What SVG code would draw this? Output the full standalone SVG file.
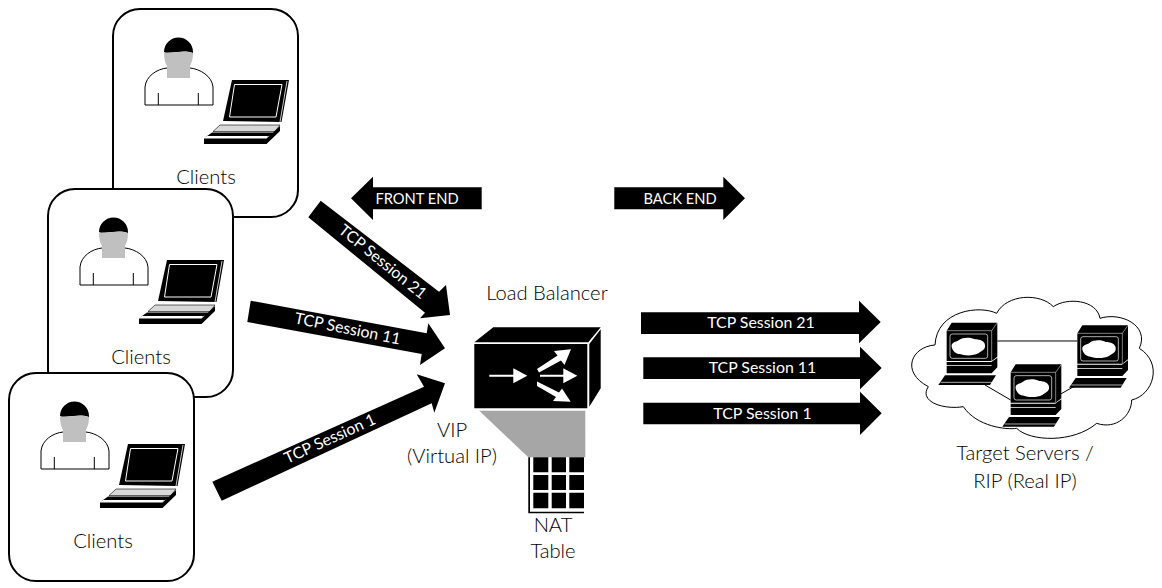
<svg xmlns="http://www.w3.org/2000/svg" width="1162" height="588" viewBox="0 0 1162 588">
<style>
text{font-family:"Lato","Open Sans","Liberation Sans",sans-serif;font-weight:300;fill:#000;text-anchor:middle}
.lb{font-size:20.2px}
.w{fill:#fff;font-size:15.9px;font-weight:400}
.s{font-size:14.700px}
.b{fill:#000}
.box{fill:#fff;stroke:#000;stroke-width:2}
.ln{fill:#fff;stroke:#000;stroke-width:1}
.wl{fill:none;stroke:#fff}
.wf{fill:#fff}
.g{fill:#c0c0c0}
</style>
<defs>
<g id="client">
<rect class="box" x="113" y="9" width="185" height="208" rx="27"/>
<path class="ln" d="M145,105V87C146,76 157,69 167,68H190C200,69 212,76 213,87V105ZM158.300,93V105M198.300,93V105"/>
<path class="b" d="M164,52A14.500,14.500 0 0 1 193,52L193,53C185,50 178,52 172,52.500C169,53 166,53 164,52Z"/>
<path class="g" d="M164,52.500C170,53.500 185,50 193,53C193,60 191,64 190,66V78H167V66C165,63 164,58 164,52.500Z"/>
<path class="b" d="M232,80H289L281.500,122L223,121Z"/>
<path class="wl" d="M234.500,84.500H282L276,117H229.500Z"/>
<path class="wl" d="M287,81L280,122" stroke-width=".8"/>
<path d="M220,125H280L275,131.500H213Z" fill="#d8d8d8" stroke="#000" stroke-width=".6"/>
<path class="b" d="M204,138.500H266.500V144H204ZM266.500,138.500L280,126V131L266.500,144ZM212,132.500H275L266,137.500H205Z"/>
<path class="wf" d="M207,136H268L266.500,138H204.500Z"/>
</g>
<path id="cblob" d="M-50,0C-52,-14 -35,-14 -28,-20C-15,-30 10,-28 20,-22C35,-22 50,-16 50,-4C52,10 38,14 30,20C15,28 -12,28 -25,22C-38,22 -48,12 -50,0Z" fill="#fff"/>
<g id="pc">
<path class="b" d="M140,122L155,98H292L275,122ZM275,122L292,98V200L275,213ZM140,122H275V213H140Z"/>
<path class="wl" d="M140,122H275L292,98M275,122V213" stroke-width="1.500"/>
<rect class="wl" x="150" y="132" width="113" height="73" rx="7" stroke-width="2"/>
<use href="#cblob" transform="translate(205,170)"/>
<path class="b" d="M140,216H275V226H140ZM140,228H275V250H140ZM275,215L292,203V232L275,250Z"/>
<path class="b" d="M115,285L135,256H288L270,285Z"/>
<path class="wl" d="M122,277H276" stroke-width="2"/>
</g>
</defs>

<g id="client-top"><use href="#client"/><text class="lb" x="206" y="184">Clients</text></g>
<g id="client-middle"><use href="#client" x="-65" y="180"/><text class="lb" x="141" y="364">Clients</text></g>
<g id="client-bottom"><use href="#client" x="-104" y="364"/><text class="lb" x="103" y="548">Clients</text></g>

<g id="load-balancer">
<path class="b" d="M474.300,342.300L493.300,327.300H600.700L588.300,342.300ZM589.300,344L600.700,329.300V388.300L589.300,406.700ZM474.300,344H587.300V408.300H474.300Z"/>
<path class="wf" d="M489.300,374.700H513.300V368.300L527.300,375.700L513.300,383.300V376.700H489.300ZM540,374.700H563.300V368.300L577.300,375.700L563.300,383.300V376.700H540ZM537,369L557.500,355.500L554,351L571,349.300L564.500,365L561,360.500L539,372.500ZM537,381.500L559,392.500L562,388.500L570.700,401.700L553,401L556,397L537,386Z"/>
<text class="lb" x="547" y="300">Load Balancer</text>
<text class="lb" x="452" y="437">VIP</text>
<text class="lb" x="452" y="463">(Virtual IP)</text>
</g>

<g id="nat-table">
<path d="M479.300,410.700H585.300V457.300H528.300Z" fill="#a6a6a6"/>
<path class="b" d="M528.300,457.300H530V511.700H584V513.300H528.300ZM533.300,457.300H548.300V472.300H533.300ZM551.700,457.300H566V472.300H551.700ZM569.300,457.300H584V472.300H569.300ZM533.300,475H548.300V490H533.300ZM551.700,475H566V490H551.700ZM569.300,475H584V490H569.300ZM533.300,492.700H548.300V508.300H533.300ZM551.700,492.700H566V508.300H551.700ZM569.300,492.700H584V508.300H569.300Z"/>
<text class="lb" x="553" y="532">NAT</text>
<text class="lb" x="553" y="558">Table</text>
</g>

<g id="target-servers">
<g transform="translate(900,290) scale(.33333)">
<path fill="#fff" stroke="#000" stroke-width="3" d="M105,165C35,170 0,245 85,290C55,335 130,360 190,350C230,410 320,420 350,415C390,455 520,460 590,400C650,420 695,375 695,330C760,315 790,220 718,175C750,105 660,65 600,85C590,28 500,22 460,50C420,8 320,12 290,70C240,45 110,60 105,165Z"/>
<path fill="none" stroke="#000" stroke-width="3" d="M292,153H532M255,285L332,330M468,320L530,285"/>
<use href="#pc"/>
<use href="#pc" x="392" y="8"/>
<use href="#pc" x="192" y="125"/>
</g>
<text class="lb" x="1025" y="460">Target Servers /</text>
<text class="lb" x="1025" y="488">RIP (Real IP)</text>
</g>

<g id="connectors">
<path class="b" d="M351,198.300L373,176.700V187.300H481.700V209.300H373V220Z"/>
<path class="b" d="M614.300,187.300H723.300V176.700L745,198.300L723.300,220V209.300H614.300Z"/>
<path class="b" d="M320.700,200.700L439,291.700L446,285L450,315L420,318.300L425,312.700L308.300,217.300Z"/>
<path class="b" d="M250.700,300.700L426.700,333.300L428.300,323.300L445,348.300L420,365L421.700,354L247.300,322Z"/>
<path class="b" d="M212.300,481.700L424,386.700L416.700,374.300L445,383.300L434.300,412.700L431.700,403.300L221.700,500.700Z"/>
<path class="b" d="M641,312.300H859V300.700L880.700,322L859,343.300V334H641Z"/>
<path class="b" d="M643.300,357.300H860V346.700L881.700,368L860,389.300V379H643.300Z"/>
<path class="b" d="M643.300,402.700H860V391.700L881.700,413.300L860,435V424.300H643.300Z"/>
<text class="w s" x="417" y="204">FRONT END</text>
<text class="w s" x="680" y="204">BACK END</text>
<text class="w" x="761" y="328">TCP Session 21</text>
<text class="w" x="762.500" y="373">TCP Session 11</text>
<text class="w" x="762.500" y="419">TCP Session 1</text>
<text class="w" transform="translate(382.500,262) rotate(39)" y="5">TCP Session 21</text>
<text class="w" transform="translate(347.500,329) rotate(11.500)" y="5">TCP Session 11</text>
<text class="w" transform="translate(330,439) rotate(-24.500)" y="5">TCP Session 1</text>
</g>
</svg>
